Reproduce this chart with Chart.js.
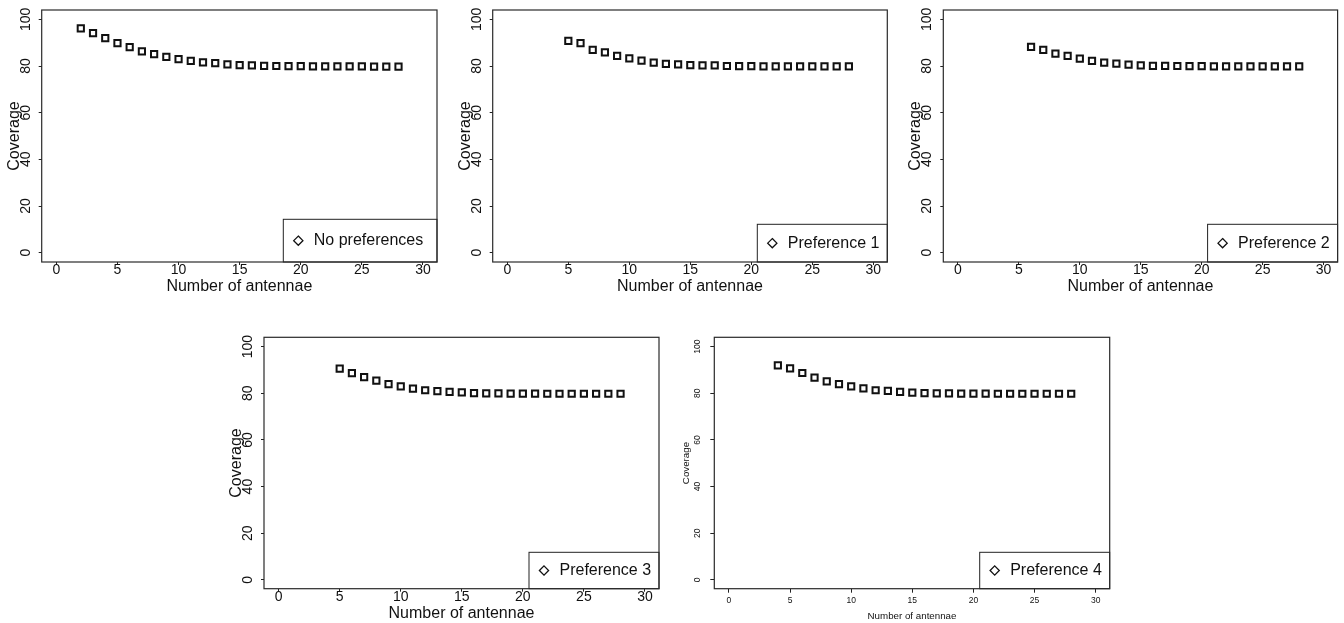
<!DOCTYPE html>
<html><head><meta charset="utf-8">
<script src="https://cdn.jsdelivr.net/npm/chart.js@4/dist/chart.umd.min.js"></script>
<style>
html,body{margin:0;padding:0;background:#fff;}
body{width:1344px;height:623px;position:relative;overflow:hidden;}
canvas{position:absolute;}
</style></head><body>
<script>
// ---------- data ----------
const seriesLabels = ['No preferences', 'Preference 1', 'Preference 2', 'Preference 3', 'Preference 4'];
const xTitle = 'Number of antennae';
const yTitle = 'Coverage';
const xTickValues = [0, 5, 10, 15, 20, 25, 30];
const yTickValues = [0, 20, 40, 60, 80, 100];

const antennaeNoPref = [2,3,4,5,6,7,8,9,10,11,12,13,14,15,16,17,18,19,20,21,22,23,24,25,26,27,28];
const coverageNoPref = [96.1,94.1,91.9,89.8,88.1,86.3,85.1,83.9,82.9,82.2,81.6,81.2,80.7,80.4,80.3,80.1,80.0,79.9,79.9,79.8,79.8,79.8,79.8,79.8,79.7,79.7,79.7];

const antennaePref1 = [5,6,7,8,9,10,11,12,13,14,15,16,17,18,19,20,21,22,23,24,25,26,27,28];
const coveragePref1 = [90.8,89.8,86.9,85.8,84.3,83.3,82.3,81.4,80.9,80.7,80.4,80.3,80.3,80.0,79.9,79.9,79.8,79.8,79.8,79.8,79.8,79.8,79.8,79.8];

const antennaePref2 = [6,7,8,9,10,11,12,13,14,15,16,17,18,19,20,21,22,23,24,25,26,27,28];
const coveragePref2 = [88.2,86.9,85.3,84.3,83.2,82.2,81.4,81.0,80.6,80.3,80.1,80.1,80.0,79.9,79.9,79.8,79.8,79.8,79.8,79.8,79.8,79.8,79.8];

const antennaePref3 = [5,6,7,8,9,10,11,12,13,14,15,16,17,18,19,20,21,22,23,24,25,26,27,28];
const coveragePref3 = [90.6,88.6,86.9,85.4,83.9,83.0,82.0,81.3,80.9,80.6,80.4,80.1,80.0,80.0,79.9,79.9,79.9,79.8,79.8,79.8,79.8,79.8,79.8,79.8];

const antennaePref4 = [4,5,6,7,8,9,10,11,12,13,14,15,16,17,18,19,20,21,22,23,24,25,26,27,28];
const coveragePref4 = [92.0,90.7,88.7,86.7,85.1,83.9,83.0,82.1,81.3,81.0,80.6,80.3,80.1,80.0,80.0,79.9,79.9,79.9,79.8,79.8,79.8,79.8,79.8,79.8,79.8];

// ---------- layout (not data) ----------
const panels = [
  {box:[41.7,10,437,262],       small:false, key:[153.7,42.7], yr:[-4,104]},
  {box:[492.7,10,887.3,262],    small:false, key:[130,37.7],   yr:[-4,104]},
  {box:[943.3,10,1338.3,262],   small:false, key:[130,37.7],   yr:[-4,104]},
  {box:[264,337.3,659,588.7],   small:false, key:[130,36.4],   yr:[-3.75,104]},
  {box:[714.3,337.3,1109.7,588.7], small:true, key:[130,36.4], yr:[-3.75,104]}
];
const series = [
  [antennaeNoPref, coverageNoPref],
  [antennaePref1, coveragePref1],
  [antennaePref2, coveragePref2],
  [antennaePref3, coveragePref3],
  [antennaePref4, coveragePref4]
];

Chart.defaults.font.family = '"Liberation Sans", Arial, Helvetica, sans-serif';
Chart.defaults.color = '#111';

const framePlugin = {
  id: 'frame',
  afterDraw(chart) {
    const {ctx, chartArea: a} = chart;
    ctx.save();
    ctx.strokeStyle = '#2a2a2a';
    ctx.lineWidth = 1.2;
    ctx.strokeRect(a.left, a.top, a.right - a.left, a.bottom - a.top);
    ctx.restore();
  }
};

const keyPlugin = {
  id: 'panelKey',
  afterDatasetsDraw(chart, args, o) {
    const a = chart.chartArea, ctx = chart.ctx;
    const x0 = a.right - o.w, y0 = a.bottom - o.h;
    ctx.save();
    ctx.fillStyle = '#fff';
    ctx.fillRect(x0, y0, o.w, o.h);
    ctx.strokeStyle = '#222';
    ctx.lineWidth = 1;
    ctx.strokeRect(x0, y0, o.w, o.h);
    const cy = y0 + o.h / 2, dx = x0 + 15, d = 4.6;
    ctx.beginPath();
    ctx.moveTo(dx, cy - d); ctx.lineTo(dx + d, cy); ctx.lineTo(dx, cy + d); ctx.lineTo(dx - d, cy); ctx.closePath();
    ctx.lineWidth = 1.3; ctx.strokeStyle = '#111'; ctx.stroke();
    ctx.fillStyle = '#111';
    ctx.font = '16px "Liberation Sans", Arial, sans-serif';
    ctx.textBaseline = 'middle'; ctx.textAlign = 'left';
    ctx.fillText(chart.data.datasets[0].label, x0 + 30.5, cy);
    ctx.restore();
  }
};

function makePanel(p, xs, ys, label) {
  const [l, t, r, b] = p.box;
  const cl = Math.floor(l - 42), ct = Math.max(0, Math.floor(t - 10));
  const cr = Math.min(1344, Math.ceil(r + 13)), cb = Math.min(623, Math.ceil(b + 38));
  const cv = document.createElement('canvas');
  cv.width = cr - cl; cv.height = cb - ct;
  cv.style.left = cl + 'px'; cv.style.top = ct + 'px';
  cv.style.width = (cr - cl) + 'px'; cv.style.height = (cb - ct) + 'px';
  document.body.appendChild(cv);

  const fTick = p.small ? 8.5 : 14;
  const fTitle = p.small ? 9.75 : 16;
  const lhHalf = fTitle * 1.2 / 2;
  const yw = l - cl, xh = cb - b;
  const yTitleMid = p.small ? l - 28.4 : l - 27.4;
  const xTitleMid = p.small ? b + 27.2 : b + 25;
  const pt = yTitleMid - cl - lhHalf;
  const pb = cb - xTitleMid - lhHalf;
  const tl = p.small ? 4 : 3;
  const yPad = p.small ? 5.85 : 1;
  const xPad = p.small ? 3.25 : -3.25;

  return new Chart(cv, {
    type: 'scatter',
    data: {
      datasets: [{
        label: label,
        data: xs.map((x, i) => ({x: x, y: ys[i]})),
        pointStyle: 'rect',
        pointRadius: 4.4,
        pointHoverRadius: 4.4,
        pointBorderWidth: 2,
        pointBorderColor: '#111',
        pointBackgroundColor: 'rgba(0,0,0,0)',
        borderColor: '#111',
        backgroundColor: 'rgba(0,0,0,0)',
        showLine: false
      }]
    },
    options: {
      responsive: false,
      animation: false,
      devicePixelRatio: 1,
      events: [],
      layout: {padding: {top: t - ct, right: cr - r, left: 0, bottom: 0}},
      plugins: {
        legend: {display: false},
        tooltip: {enabled: false},
        panelKey: {w: p.key[0], h: p.key[1]}
      },
      scales: {
        x: {
          type: 'linear', position: 'bottom', min: -1.2, max: 31.15,
          afterBuildTicks: s => { s.ticks = xTickValues.map(v => ({value: v})); },
          afterFit: s => { s.height = xh; s.paddingLeft = 0; s.paddingRight = 0; },
          grid: {display: true, drawOnChartArea: false, drawTicks: true, tickLength: tl, tickColor: '#222', tickWidth: 1},
          border: {display: false},
          ticks: {font: {size: fTick}, color: '#111', padding: xPad, minRotation: 0, maxRotation: 0, autoSkip: false},
          title: {display: true, text: xTitle, font: {size: fTitle}, color: '#111', padding: {top: 0, bottom: pb}}
        },
        y: {
          type: 'linear', position: 'left', min: p.yr[0], max: p.yr[1],
          afterBuildTicks: s => { s.ticks = yTickValues.map(v => ({value: v})); },
          afterFit: s => { s.width = yw; s.paddingTop = 0; s.paddingBottom = 0; },
          grid: {display: true, drawOnChartArea: false, drawTicks: true, tickLength: tl, tickColor: '#222', tickWidth: 1},
          border: {display: false},
          ticks: {font: {size: fTick}, color: '#111', padding: yPad, minRotation: 90, maxRotation: 90, crossAlign: 'center', autoSkip: false},
          title: {display: true, text: yTitle, font: {size: fTitle}, color: '#111', padding: {top: pt, bottom: 0}}
        }
      }
    },
    plugins: [keyPlugin, framePlugin]
  });
}

panels.forEach((p, i) => makePanel(p, series[i][0], series[i][1], seriesLabels[i]));
</script>
</body></html>
